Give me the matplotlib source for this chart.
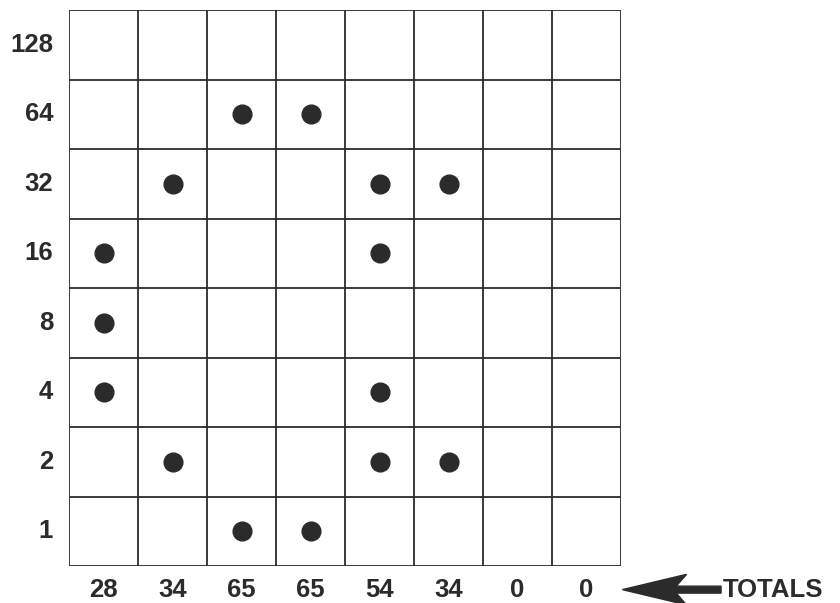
import numpy as np
import matplotlib.pyplot as plt
from matplotlib.patches import Polygon

# bit weights, top row first
row_labels = [128, 64, 32, 16, 8, 4, 2, 1]
# which bits are set in each of the 8 columns (1 = dot)
col_bits = [
    [16, 8, 4],
    [32, 2],
    [64, 1],
    [64, 1],
    [32, 16, 4, 2],
    [32, 2],
    [],
    [],
]
totals = [28, 34, 65, 65, 54, 34, 0, 0]

ink = '#2b2b2b'
font = dict(family='Liberation Sans', fontweight='bold', fontsize=18.5, color=ink)

fig = plt.figure(figsize=(8.4, 6.03), dpi=100)
ax = fig.add_axes([69/840, 37/603, 552/840, 556/603])
ax.set_xlim(0, 8)
ax.set_ylim(0, 8)
ax.axis('off')

# grid
for i in range(9):
    ax.plot([i, i], [0, 8], color=ink, lw=1.3, solid_capstyle='butt')
    ax.plot([0, 8], [i, i], color=ink, lw=1.3, solid_capstyle='butt')

# dots
for c, bits in enumerate(col_bits):
    for b in bits:
        r = 7 - row_labels.index(b)
        ax.plot(c + 0.5, r + 0.5, 'o', ms=13.5, color=ink)

# row labels
for i, lab in enumerate(row_labels):
    ax.text(-0.23, 7.5 - i, str(lab), ha='right', va='center', clip_on=False, **font)

# totals
for c, t in enumerate(totals):
    ax.text(c + 0.5, -0.35, str(t), ha='center', va='center', clip_on=False, **font)

# arrow pointing at the totals row
ax.add_patch(Polygon([[8.02, -0.34], [8.95, -0.56], [8.8, -0.39], [9.45, -0.39],
                      [9.45, -0.29], [8.8, -0.29], [8.95, -0.12]],
                     closed=True, color=ink, clip_on=False))
ax.text(9.47, -0.34, 'TOTALS', ha='left', va='center', clip_on=False, **font)

fig.savefig('out.png', dpi=100, facecolor='white')
